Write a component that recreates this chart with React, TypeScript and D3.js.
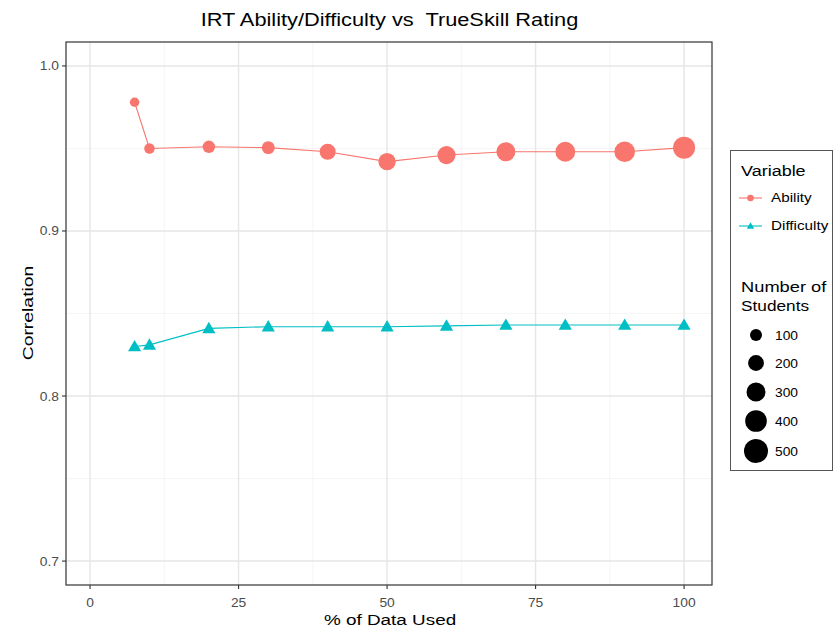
import React from "react";
import * as d3 from "d3";

// % of data used
const pctUsed = [7.5, 10, 20, 30, 40, 50, 60, 70, 80, 90, 100];
// correlation with TrueSkill rating
const abilityCorr = [0.978, 0.95, 0.951, 0.9505, 0.948, 0.942, 0.946, 0.948, 0.948, 0.948, 0.9505];
const difficultyCorr = [0.83, 0.831, 0.841, 0.842, 0.842, 0.842, 0.8425, 0.843, 0.843, 0.843, 0.843];
// number of students behind each ability point
const numStudents = [50, 68, 109, 120, 204, 247, 273, 301, 330, 360, 415];

const xTicks = [0, 25, 50, 75, 100];
const yTicks = [0.7, 0.8, 0.9, 1.0];
const sizeBreaks = [100, 200, 300, 400, 500];

const W = 834, H = 629;
const margin = { top: 42, right: 122, bottom: 44, left: 66 };
const RED = "#F8766D", TEAL = "#00BFC4";
const FONT = "'Liberation Sans', Arial, sans-serif";

// text stretched sideways, the source font runs wider than Arial
function Txt(props: { x: number; y: number; size: number; sx?: number; rotate?: number; anchor?: string; fill?: string; children: any }) {
  const { x, y, size, sx = 1.2, rotate = 0, anchor = "start", fill = "#000", children } = props;
  return (
    <g transform={`translate(${x},${y}) rotate(${rotate}) scale(${sx},1)`}>
      <text textAnchor={anchor as any} fontSize={size} fill={fill} style={{ whiteSpace: "pre" }}>{children}</text>
    </g>
  );
}

export default function App() {
  const x = d3.scaleLinear().domain([-4.05, 104.7]).range([margin.left, W - margin.right]);
  const y = d3.scaleLinear().domain([0.6855, 1.0145]).range([H - margin.bottom, margin.top]);
  // ggplot-like area scale for point size
  const area = d3.scaleLinear().domain([100, 500]).range([36, 144]);
  const r = (n: number) => Math.sqrt(Math.max(area(n), 4));

  const xMinor = [12.5, 37.5, 62.5, 87.5];
  const yMinor = [0.75, 0.85, 0.95];

  const line = d3.line<[number, number]>().x(d => x(d[0])).y(d => y(d[1]));
  const abilityPts = pctUsed.map((p, i) => [p, abilityCorr[i]] as [number, number]);
  const diffPts = pctUsed.map((p, i) => [p, difficultyCorr[i]] as [number, number]);
  const tri = d3.symbol().type(d3.symbolTriangle).size(75)();
  const triSmall = d3.symbol().type(d3.symbolTriangle).size(24)();

  const [x0, x1] = x.range();
  const [y0, y1] = [y.range()[1], y.range()[0]];

  const legendSizeY = [335, 363, 392, 421, 451];

  return (
    <svg width={W} height={H} style={{ position: "absolute", left: 0, top: 0, fontFamily: FONT }}>
      <rect width={W} height={H} fill="#fff" />
      {/* grid */}
      {xMinor.map(v => <line key={"xm" + v} x1={x(v)} x2={x(v)} y1={y0} y2={y1} stroke="#f2f2f2" strokeWidth={0.8} />)}
      {yMinor.map(v => <line key={"ym" + v} x1={x0} x2={x1} y1={y(v)} y2={y(v)} stroke="#f2f2f2" strokeWidth={0.8} />)}
      {xTicks.map(v => <line key={"xg" + v} x1={x(v)} x2={x(v)} y1={y0} y2={y1} stroke="#e6e6e6" strokeWidth={1.4} />)}
      {yTicks.map(v => <line key={"yg" + v} x1={x0} x2={x1} y1={y(v)} y2={y(v)} stroke="#e6e6e6" strokeWidth={1.4} />)}

      {/* series */}
      <path d={line(abilityPts) || ""} fill="none" stroke={RED} strokeWidth={1.1} />
      <path d={line(diffPts) || ""} fill="none" stroke={TEAL} strokeWidth={1.1} />
      {abilityPts.map((d, i) => (
        <circle key={"a" + i} cx={x(d[0])} cy={y(d[1])} r={r(numStudents[i])} fill={RED} />
      ))}
      {diffPts.map((d, i) => (
        <path key={"d" + i} d={tri || ""} transform={`translate(${x(d[0])},${y(d[1]) + 1})`} fill={TEAL} />
      ))}

      {/* panel border */}
      <rect x={x0} y={y0} width={x1 - x0} height={y1 - y0} fill="none" stroke="#333" strokeWidth={1.2} />

      {/* axes ticks */}
      {xTicks.map(v => (
        <g key={"xt" + v}>
          <line x1={x(v)} x2={x(v)} y1={y1} y2={y1 + 4} stroke="#333" strokeWidth={1.1} />
          <Txt x={x(v)} y={y1 + 22} anchor="middle" size={12} sx={1.15} fill="#4d4d4d">{v}</Txt>
        </g>
      ))}
      {yTicks.map(v => (
        <g key={"yt" + v}>
          <line x1={x0 - 4} x2={x0} y1={y(v)} y2={y(v)} stroke="#333" strokeWidth={1.1} />
          <Txt x={x0 - 7} y={y(v) + 4.5} anchor="end" size={12} sx={1.15} fill="#4d4d4d">{v.toFixed(1)}</Txt>
        </g>
      ))}

      {/* titles */}
      <Txt x={389.5} y={25.5} anchor="middle" size={17.5} sx={1.245}>{"IRT Ability/Difficulty vs  TrueSkill Rating"}</Txt>
      <Txt x={390} y={625} anchor="middle" size={15.5} sx={1.22}>% of Data Used</Txt>
      <Txt x={33} y={313} rotate={-90} anchor="middle" size={15.5} sx={1.25}>Correlation</Txt>

      {/* legend */}
      <rect x={730.5} y={150.5} width={102} height={320} fill="#fff" stroke="#555" strokeWidth={1} />
      <Txt x={741} y={176} size={15}>Variable</Txt>
      <line x1={739} x2={762} y1={198} y2={198} stroke={RED} strokeWidth={1.1} />
      <circle cx={750.5} cy={198} r={3.3} fill={RED} />
      <Txt x={771} y={202} size={12.5} sx={1.22}>Ability</Txt>
      <line x1={739} x2={762} y1={226} y2={226} stroke={TEAL} strokeWidth={1.1} />
      <path d={triSmall || ""} transform={`translate(750.5,226.5)`} fill={TEAL} />
      <Txt x={771} y={230} size={12.5} sx={1.22}>Difficulty</Txt>

      <Txt x={741} y={292} size={15} sx={1.22}>Number of</Txt>
      <Txt x={741} y={311} size={15} sx={1.15}>Students</Txt>
      {sizeBreaks.map((n, i) => (
        <g key={"s" + n}>
          <circle cx={756} cy={legendSizeY[i]} r={r(n)} fill="#000" />
          <Txt x={775} y={legendSizeY[i] + 4.5} size={12} sx={1.15}>{n}</Txt>
        </g>
      ))}
    </svg>
  );
}
